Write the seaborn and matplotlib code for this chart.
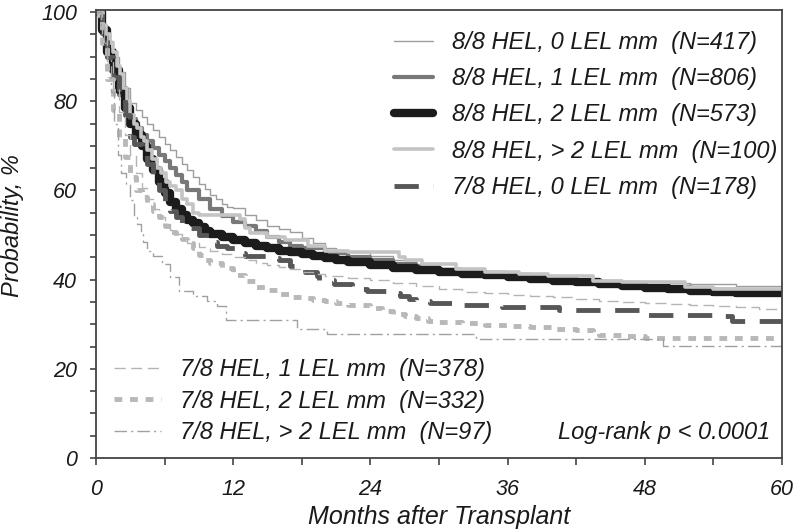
import matplotlib
matplotlib.use('Agg')
import matplotlib.pyplot as plt
import seaborn as sns
from matplotlib.ticker import MultipleLocator

# Kaplan-Meier style curves (months, probability %)
labels = [
    '8/8 HEL, 0 LEL mm  (N=417)',
    '8/8 HEL, 1 LEL mm  (N=806)',
    '8/8 HEL, 2 LEL mm  (N=573)',
    '8/8 HEL, > 2 LEL mm  (N=100)',
    '7/8 HEL, 0 LEL mm  (N=178)',
    '7/8 HEL, 1 LEL mm  (N=378)',
    '7/8 HEL, 2 LEL mm  (N=332)',
    '7/8 HEL, > 2 LEL mm  (N=97)',
]

t_88_0 = [0, 0.5, 1, 1.5, 2, 2.5, 3, 3.5, 4, 4.5, 5, 5.5, 6, 6.5, 7, 7.5, 8, 8.5, 9, 9.5,
          10, 10.5, 11, 11.5, 12, 13, 14, 15, 16, 17, 18, 19, 20, 21, 22, 24, 26, 28, 30,
          32, 34, 36, 38, 40, 42, 44, 46, 48, 50, 52, 54, 56, 60]
s_88_0 = [100, 97, 93.5, 90, 86.5, 83, 79.5, 78, 76.5, 75, 73.5, 72, 70.5, 69, 67.5, 66, 64.5,
          63, 61.5, 60.3, 59, 58, 57, 56.3, 56, 54.5, 53.3, 52, 51.3, 50.6, 49.3, 48.2, 47.2,
          46.6, 46.1, 45.2, 44.3, 43.4, 42.6, 41.9, 41.4, 41, 40.5, 40.2, 40, 39.8, 39.6,
          39.4, 39.2, 39.1, 39, 38.6, 38.6]

t_88_1 = [0, 0.5, 1, 1.5, 2, 2.5, 3, 3.5, 4, 4.5, 5, 5.5, 6, 6.5, 7, 7.5, 8, 9, 10, 11, 12,
          13, 14, 15, 16, 17, 18, 20, 22, 24, 26, 28, 30, 32, 34, 36, 38, 40, 42, 44, 46,
          48, 50, 52, 54, 56, 60]
s_88_1 = [100, 95, 90, 85.5, 81.5, 78.5, 76, 74, 72.5, 71, 69.5, 68, 66.5, 65, 63.5, 62, 60,
          58, 55.8, 54.2, 53, 52, 50.8, 49.5, 48.4, 47.6, 47, 46, 45, 44.3, 43.5, 42.8, 42.2,
          41.6, 41.1, 40.6, 40.2, 39.8, 39.4, 39, 38.7, 38.4, 38.1, 37.9, 37.7, 37.6, 37.5]

t_88_2 = [0, 0.5, 1, 1.5, 2, 2.5, 3, 3.5, 4, 4.5, 5, 5.5, 6, 6.5, 7, 7.5, 8, 8.5, 9, 9.5,
          10, 11, 12, 13, 14, 15, 16, 17, 18, 19, 20, 21, 22, 24, 26, 28, 30, 32, 34, 36,
          38, 40, 42, 44, 46, 48, 50, 52, 54, 56, 60]
s_88_2 = [100, 96, 91, 87, 82.5, 78.5, 75, 72.5, 70, 67, 64.5, 62, 59.5, 57.5, 55.8, 54.5,
          53.4, 52.6, 51.8, 51, 50.3, 49.5, 48.8, 48.2, 47.5, 47, 46.5, 46.1, 45.7, 45.3,
          44.8, 44.3, 43.9, 43.2, 42.7, 42.2, 41.7, 41.3, 41, 40.5, 40.1, 39.8, 39.4, 39,
          38.6, 38.2, 37.8, 37.4, 37.2, 37, 36.9]

t_88_3 = [0, 0.3, 0.6, 0.9, 1.2, 1.5, 1.8, 2.1, 2.4, 2.7, 3.0, 3.3, 3.6, 3.9, 4.2, 4.5, 4.9,
          5.3, 5.7, 6.1, 6.5, 7, 7.5, 8, 8.5, 9, 12.6, 13, 13.5, 15, 16.5, 18.5, 20, 22,
          26.5, 27, 28.5, 31.5, 34, 37, 39.5, 43.5, 46, 51.5, 54, 60]
s_88_3 = [100, 99, 97, 95, 93, 91, 88, 86, 83, 80, 77, 75, 74, 72, 71, 69, 67, 65, 64, 62,
          61, 60, 58, 57, 55, 54.5, 53.5, 51.5, 50.5, 49.5, 48.8, 47.5, 46.5, 46.1, 45,
          44.3, 43.5, 42.4, 41.8, 41.2, 40.8, 39.8, 39.4, 38.4, 38, 38]

t_78_0 = [0, 0.5, 1, 1.5, 2, 2.5, 3, 3.3, 4, 4.5, 5, 5.5, 6, 6.5, 7, 7.5, 8, 9, 10, 10.6,
          11.5, 12.5, 13, 15, 16, 17, 17.5, 18.3, 19.3, 19.5, 20.8, 22.4, 23.7, 25.4, 26.6,
          27.4, 28, 29.2, 31.3, 35.5, 40.5, 47.8, 48.2, 54.5, 55.6, 60]
s_78_0 = [100, 95, 90, 85.5, 81, 77, 72, 70.5, 69.5, 66, 62.5, 60, 57.5, 55.5, 54, 52.5,
          51.5, 50, 48.5, 47.6, 47, 46, 45.4, 44.9, 44.3, 43, 42.5, 41.7, 40.9, 39.9, 39,
          38, 37.4, 37, 36.4, 35.6, 35.2, 34.8, 34.4, 33.8, 33.2, 32.8, 32.1, 31.8, 30.8, 30.8]

t_78_1 = [0, 0.5, 1, 1.5, 2, 2.5, 3, 3.5, 4, 4.5, 5, 5.5, 6, 6.5, 7, 7.5, 8, 9, 10, 11, 12,
          13, 14, 15, 16, 17, 18, 19, 20, 22, 24, 26, 28, 30, 32, 34, 36, 38, 40, 42, 44,
          46, 48, 50, 52, 54, 56, 58, 60]
s_78_1 = [100, 95, 89, 83, 77.5, 72.5, 68, 64, 60.5, 58, 55.8, 54, 52.5, 51.2, 50.2, 49.3,
          48.3, 47.3, 46.4, 45.7, 45, 44.4, 43.8, 43.2, 42.8, 42.4, 41.8, 41.3, 40.9, 40.4,
          39.9, 39.3, 38.5, 37.8, 37.2, 36.9, 36.6, 36.4, 36, 35.6, 35.2, 34.9, 34.7, 34.5,
          34.3, 34.1, 33.8, 33.5, 33.3]

t_78_2 = [0, 0.5, 1, 1.5, 2, 2.5, 3, 3.5, 4, 4.5, 5, 5.5, 6, 6.5, 7, 7.5, 8, 8.5, 9, 9.5,
          10, 11, 12, 13, 14, 15, 16, 17, 18, 19, 20, 21, 22, 24, 25, 26, 27, 28, 29, 30,
          32, 34, 36, 38, 40, 42, 43.5, 44, 46, 48, 50, 60]
s_78_2 = [100, 93, 85, 78, 72, 67.5, 63, 60, 58.5, 57, 55.5, 54, 52, 50.6, 49.8, 49, 48.2,
          47, 45.5, 44.5, 43.8, 42.7, 41, 39.8, 38.4, 37.6, 36.8, 36.1, 35.8, 35.5, 35.2,
          34.8, 34.4, 33.6, 33, 32.4, 31.8, 31.3, 30.8, 30.5, 30.2, 29.8, 29.6, 29.3, 29,
          28.6, 28.2, 27.6, 27.3, 27, 26.9, 26.9]

t_78_3 = [0, 0.4, 0.7, 1, 1.3, 1.6, 1.9, 2.2, 2.6, 3.0, 3.3, 3.6, 3.9, 4.1, 4.5, 5, 5.8,
          6.5, 7.3, 8.5, 9.7, 10.6, 11.4, 17.6, 20.2, 33.2, 49.6, 60]
s_78_3 = [100, 97, 93, 89.5, 82, 75, 68, 64, 61.5, 57.8, 54, 52.5, 50.5, 48.5, 46.5, 45.2,
          43.5, 40.5, 37.5, 36.4, 35.3, 34, 30.9, 28.9, 27.8, 26.7, 25.2, 25.2]

times = [t_88_0, t_88_1, t_88_2, t_88_3, t_78_0, t_78_1, t_78_2, t_78_3]
surv = [s_88_0, s_88_1, s_88_2, s_88_3, s_78_0, s_78_1, s_78_2, s_78_3]

colors = ['#9e9e9e', '#787878', '#1c1c1c', '#c4c4c4', '#575757', '#b4b4b4', '#b8b8b8', '#a0a0a0']
widths = [1.0, 3.0, 6.0, 2.6, 3.5, 1.0, 3.5, 1.0]
styles = ['-', '-', '-', '-', (0, (5, 3)), (0, (8, 4)), (0, (1.6, 1.6)), (0, (9, 3, 1.5, 3))]

sns.set_style('ticks')
plt.rcParams['font.family'] = ['Liberation Sans', 'DejaVu Sans']
plt.rcParams['font.style'] = 'italic'
narrow = ['Liberation Sans Narrow', 'Liberation Sans', 'DejaVu Sans']
txt = '#1a1a1a'
fs_leg = 17

fig = plt.figure(figsize=(7.98, 5.32), dpi=100)
ax = fig.add_axes([0.1203, 0.139, 0.8596, 0.8426])

for t, s, c, w, ls, lab in zip(times, surv, colors, widths, styles, labels):
    sns.lineplot(x=t, y=s, ax=ax, color=c, linewidth=w, linestyle=ls,
                 drawstyle='steps-post', label=lab, legend=False)

ax.set_xlim(0, 60)
ax.set_ylim(0, 100.5)
ax.xaxis.set_major_locator(MultipleLocator(12))
ax.xaxis.set_minor_locator(MultipleLocator(6))
ax.yaxis.set_major_locator(MultipleLocator(20))
ax.yaxis.set_minor_locator(MultipleLocator(5))
ax.tick_params(axis='both', which='both', direction='out', color='#444444', width=1.2)
ax.tick_params(axis='x', which='both', length=5, pad=10)
ax.tick_params(axis='y', which='both', length=4.5, pad=9)
for sp in ax.spines.values():
    sp.set_visible(True)
    sp.set_color('#444444')
    sp.set_linewidth(1.3)

for lbl in ax.get_xticklabels():
    lbl.set_family(narrow)
    lbl.set_fontsize(15.5)
    lbl.set_style('italic')
    lbl.set_color(txt)
for lbl in ax.get_yticklabels():
    lbl.set_fontsize(15.5)
    lbl.set_style('italic')
    lbl.set_color(txt)

ax.set_xlabel('Months after Transplant', fontsize=18, style='italic', family=narrow,
              color=txt, va='top')
ax.xaxis.set_label_coords(0.5, -0.104)
ax.set_ylabel('Probability, %', fontsize=17, style='italic', color=txt, va='center')
ax.yaxis.set_label_coords(-0.121, 0.518)

lines = ax.get_lines()
leg1 = ax.legend(handles=lines[:5], labels=labels[:5], loc='upper right',
                 bbox_to_anchor=(1.007, 0.974), borderaxespad=0, frameon=False,
                 handlelength=1.65, handletextpad=0.8, labelspacing=0.56,
                 prop={'style': 'italic', 'size': fs_leg})
for tx in leg1.get_texts():
    tx.set_color(txt)
ax.add_artist(leg1)

leg2 = ax.legend(handles=lines[5:], labels=labels[5:], loc='lower left',
                 bbox_to_anchor=(0.012, 0.01), borderaxespad=0, frameon=False,
                 handlelength=2.0, handletextpad=0.8, labelspacing=0.36,
                 prop={'style': 'italic', 'size': fs_leg})
for tx in leg2.get_texts():
    tx.set_color(txt)

ax.text(0.983, 0.056, 'Log-rank p < 0.0001', transform=ax.transAxes, ha='right',
        va='center', fontsize=fs_leg, style='italic', color=txt)

fig.savefig('out.png', dpi=100)
